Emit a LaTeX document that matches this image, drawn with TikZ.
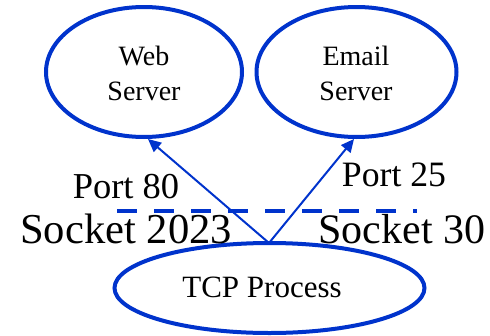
\documentclass[tikz,border=0pt]{standalone}
\usepackage{fontspec}
\setmainfont{Liberation Serif}
\usetikzlibrary{arrows.meta,shapes.geometric}
\definecolor{netblue}{RGB}{0,51,204}
\begin{document}
\begin{tikzpicture}[x=1pt,y=-1pt,
  server/.style={draw=netblue,line width=4pt,ellipse,minimum width=196pt,minimum height=130pt,inner sep=0pt},
  proc/.style={draw=netblue,line width=4pt,ellipse,minimum width=310pt,minimum height=90pt,inner sep=0pt},
  conn/.style={draw=netblue,line width=2pt,-{Triangle[length=13pt,width=12pt]}},
  lbl/.style={anchor=base,inner sep=0pt},
  big/.style={font=\fontsize{42.6}{44}\selectfont},
  mid/.style={font=\fontsize{36.5}{38}\selectfont}]
\useasboundingbox (0,0) rectangle (490,335);
\node[server] (web) at (144,72) {};
\node[server,minimum width=200pt] (email) at (356.5,72) {};
\node[proc] (tcp) at (269.5,288) {};
\node[lbl,font=\fontsize{28}{30}\selectfont] (webt1) at (144,65) {Web};
\node[lbl,font=\fontsize{28}{30}\selectfont] (webt2) at (144,100) {Server};
\node[lbl,font=\fontsize{28}{30}\selectfont] (emt1) at (356,65) {Email};
\node[lbl,font=\fontsize{28}{30}\selectfont] (emt2) at (356,100) {Server};
\node[lbl,font=\fontsize{31}{33}\selectfont] (tcpt) at (262,297) {TCP Process};
\coordinate (top) at (269,243);
\coordinate (webend) at (148,139);
\coordinate (emend) at (354,139);
\draw[conn] (top) -- (webend);
\draw[conn] (top) -- (emend);
\coordinate (dl) at (117,211);
\coordinate (dr) at (417,211);
\draw[netblue,line width=4.5pt,dash pattern=on 20pt off 17pt] (dl) -- (dr);
\node[lbl,mid] (p80) at (126,198) {Port 80};
\node[lbl,mid,font=\fontsize{35.7}{37}\selectfont] (p25) at (394,186) {Port 25};
\node[lbl,big] (s2023) at (126,243) {Socket 2023};
\node[lbl,big,font=\fontsize{42}{44}\selectfont] (s30) at (402,243) {Socket 30};
\end{tikzpicture}
\end{document}
